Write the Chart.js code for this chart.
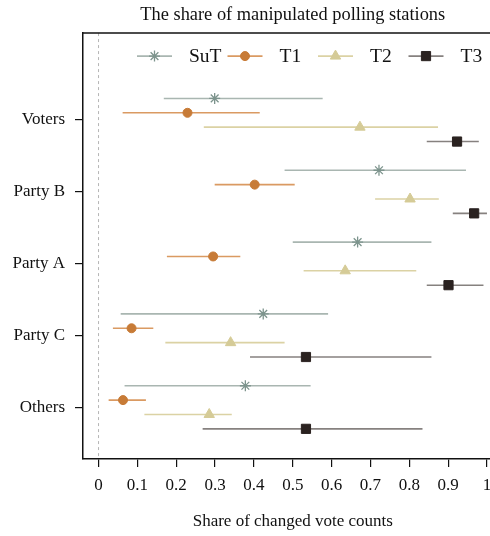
<!DOCTYPE html>
<html>
<head>
<meta charset="utf-8">
<script src="https://cdn.jsdelivr.net/npm/chart.js@4/dist/chart.umd.min.js"></script>
<style>
  html, body { margin: 0; padding: 0; overflow: hidden; background: #fff; }
  #wrap { width: 510px; height: 536px; position: relative; }
</style>
</head>
<body>
<div id="wrap"><canvas id="c"></canvas></div>
<script>
// Groups shown on the vertical axis, top to bottom
const categories = ['Voters', 'Party B', 'Party A', 'Party C', 'Others'];
const seriesNames = ['SuT', 'T1', 'T2', 'T3'];

// Point estimates and interval bounds, one entry per group
const sutEst  = [0.299, 0.722, 0.667, 0.424, 0.378];
const sutLow  = [0.168, 0.479, 0.500, 0.057, 0.067];
const sutHigh = [0.577, 0.946, 0.857, 0.591, 0.546];

const t1Est  = [0.229, 0.402, 0.295, 0.085, 0.063];
const t1Low  = [0.062, 0.299, 0.176, 0.037, 0.026];
const t1High = [0.415, 0.505, 0.365, 0.141, 0.122];

const t2Est  = [0.673, 0.802, 0.635, 0.340, 0.285];
const t2Low  = [0.271, 0.712, 0.528, 0.172, 0.118];
const t2High = [0.874, 0.876, 0.818, 0.479, 0.343];

const t3Est  = [0.923, 0.967, 0.901, 0.534, 0.534];
const t3Low  = [0.845, 0.912, 0.845, 0.390, 0.268];
const t3High = [0.979, 1.000, 0.991, 0.857, 0.834];

const xTicks = [0, 0.1, 0.2, 0.3, 0.4, 0.5, 0.6, 0.7, 0.8, 0.9, 1];

const FONT = '"Liberation Serif", "Times New Roman", serif';

const seriesData = [
  { est: sutEst, low: sutLow, high: sutHigh },
  { est: t1Est,  low: t1Low,  high: t1High },
  { est: t2Est,  low: t2Low,  high: t2High },
  { est: t3Est,  low: t3Low,  high: t3High }
];

// Marker and line styling for each series
const styles = [
  { marker: 'star',     radius: 5.5, fill: '#7d948d', stroke: '#7d948d', line: '#a9b6b1', bw: 1.3 },
  { marker: 'circle',   radius: 4.5, fill: '#c77b37', stroke: '#c77b37', line: '#da9a62', bw: 1 },
  { marker: 'triangle', radius: 6,   fill: '#d5cb97', stroke: '#d5cb97', line: '#dbd2a4', bw: 1 },
  { marker: 'rect',     radius: 6.5, fill: '#2a2220', stroke: '#2a2220', line: '#86817f', bw: 1 }
];

// vertical offset of each series within a group (in group units)
const offsets = [-0.3, -0.1, 0.1, 0.3];
const Y_MIN = -0.21, Y_MAX = 5.72;

const datasets = [];

// dashed reference line at zero
datasets.push({
  data: [{ x: 0, y: Y_MIN }, { x: 0, y: Y_MAX }],
  showLine: true, borderColor: '#b5b5b5', borderWidth: 1, borderDash: [3, 3],
  pointRadius: 0, order: 3
});

seriesData.forEach((s, si) => {
  const st = styles[si];
  categories.forEach((c, ci) => {
    const y = ci + 1 + offsets[si];
    datasets.push({
      data: [{ x: s.low[ci], y }, { x: s.high[ci], y }],
      showLine: true, borderColor: st.line, borderWidth: 1.6,
      pointRadius: 0, order: 2
    });
  });
  datasets.push({
    label: seriesNames[si],
    data: categories.map((c, ci) => ({ x: s.est[ci], y: ci + 1 + offsets[si] })),
    showLine: false,
    pointStyle: st.marker, pointRadius: st.radius,
    pointBackgroundColor: st.fill, pointBorderColor: st.stroke, pointBorderWidth: st.bw,
    pointHoverRadius: st.radius,
    order: 1
  });
});

// Frame line along the top of the plot area and the in-plot legend
const framePlugin = {
  id: 'frameAndLegend',
  afterDraw(chart) {
    const { ctx, chartArea } = chart;
    ctx.save();
    ctx.strokeStyle = '#111';
    ctx.lineWidth = 1.5;
    ctx.beginPath();
    ctx.moveTo(chartArea.left, chartArea.top);
    ctx.lineTo(chartArea.right, chartArea.top);
    ctx.stroke();

    const ly = chartArea.top + 23;
    seriesNames.forEach((name, i) => {
      const st = styles[i];
      const x0 = chartArea.left + 54 + 90.5 * i;
      ctx.strokeStyle = st.line;
      ctx.lineWidth = 1.6;
      ctx.beginPath();
      ctx.moveTo(x0, ly);
      ctx.lineTo(x0 + 35, ly);
      ctx.stroke();
      ctx.fillStyle = st.fill;
      ctx.strokeStyle = st.stroke;
      ctx.lineWidth = st.bw;
      Chart.helpers.drawPoint(ctx, { pointStyle: st.marker, radius: st.radius, rotation: 0, borderWidth: st.bw }, x0 + 17.5, ly);
      ctx.fillStyle = '#111';
      ctx.font = '19.5px ' + FONT;
      ctx.textAlign = 'left';
      ctx.textBaseline = 'middle';
      ctx.fillText(name, x0 + 52, ly + 1);
    });
    ctx.restore();
  }
};

new Chart(document.getElementById('c'), {
  type: 'scatter',
  data: { datasets },
  plugins: [framePlugin],
  options: {
    responsive: true,
    maintainAspectRatio: false,
    animation: false,
    layout: { padding: 0 },
    plugins: {
      legend: { display: false },
      tooltip: { enabled: false },
      title: {
        display: true,
        text: 'The share of manipulated polling stations',
        fullSize: false,
        color: '#111',
        font: { family: FONT, size: 18.4, weight: 'normal' },
        padding: { top: 4, bottom: 7 }
      }
    },
    scales: {
      x: {
        type: 'linear',
        min: -0.04, max: 1.04,
        afterBuildTicks(scale) { scale.ticks = xTicks.map(v => ({ value: v })); },
        afterFit(scale) { scale.height = 77; },
        ticks: {
          color: '#111',
          font: { family: FONT, size: 17 },
          padding: 8,
          maxRotation: 0,
          autoSkip: false,
          callback: v => String(Number(v.toFixed(1)))
        },
        grid: { drawOnChartArea: false, drawTicks: true, tickLength: 8, color: '#111', lineWidth: 1.2 },
        border: { display: true, color: '#111', width: 1.5 },
        title: {
          display: true,
          text: 'Share of changed vote counts',
          color: '#111',
          font: { family: FONT, size: 17 },
          padding: { top: 0, bottom: 4 }
        }
      },
      y: {
        type: 'linear',
        reverse: true,
        min: Y_MIN, max: Y_MAX,
        afterBuildTicks(scale) { scale.ticks = categories.map((c, i) => ({ value: i + 1 })); },
        afterFit(scale) { scale.width = 83; },
        ticks: {
          color: '#111',
          font: { family: FONT, size: 17 },
          padding: 10,
          autoSkip: false,
          callback: v => categories[Math.round(v) - 1]
        },
        grid: { drawOnChartArea: false, drawTicks: true, tickLength: 8, color: '#111', lineWidth: 1.2 },
        border: { display: true, color: '#111', width: 1.5 }
      }
    }
  }
});
</script>
</body>
</html>
